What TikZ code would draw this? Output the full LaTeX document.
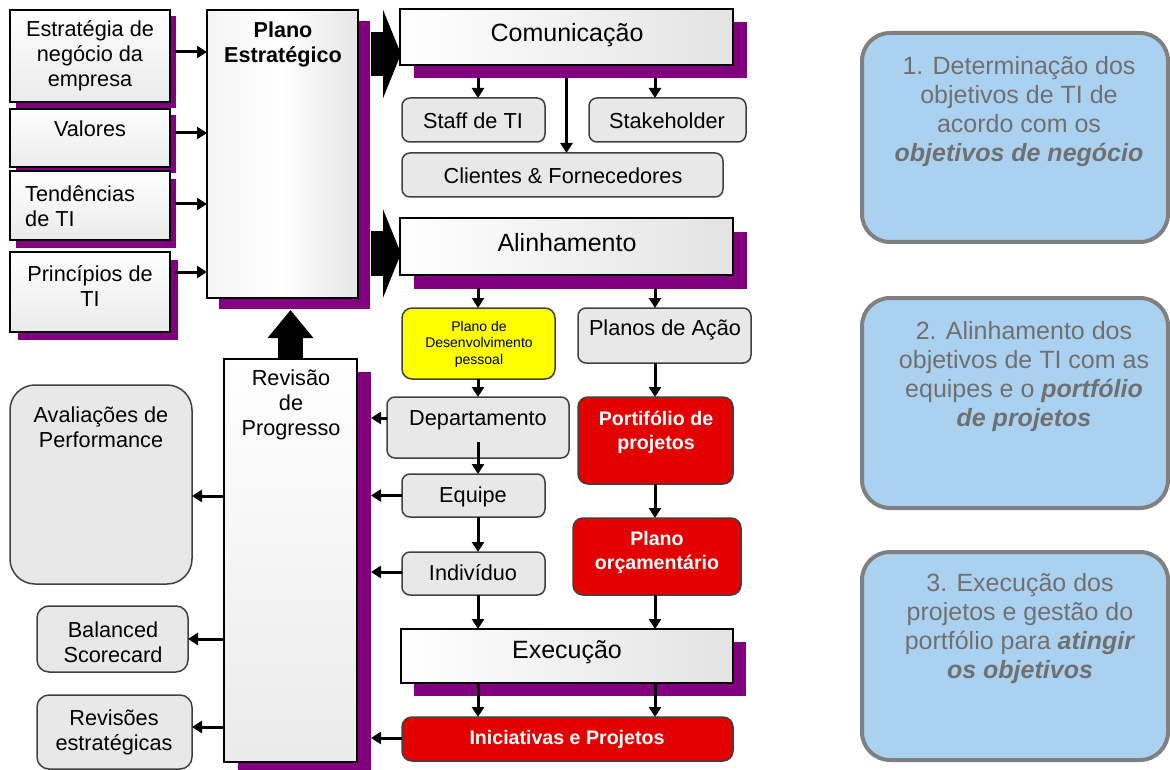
\documentclass[tikz,border=0pt]{standalone}
\usepackage{fontspec}
\setmainfont{Liberation Sans}
\usetikzlibrary{arrows.meta,calc,backgrounds}

\definecolor{purp}{RGB}{128,0,128}
\definecolor{boxgray}{RGB}{232,232,232}
\definecolor{edgegray}{RGB}{64,64,64}
\definecolor{redbox}{RGB}{226,0,0}
\definecolor{yelbox}{RGB}{255,255,0}
\definecolor{bluebox}{RGB}{171,209,241}
\definecolor{blueedge}{RGB}{128,128,128}
\definecolor{bluetext}{RGB}{112,112,112}

\newcommand\shadowof[3]{\fill[purp] ($(#1.south west)+(#2,#3)$) rectangle ($(#1.north east)+(#2,#3)$);}

\tikzset{
  frame/.style={draw=black, line width=2.5pt, inner sep=0pt, outer sep=0pt},
  hshade/.style={left color=white, right color=gray!22},
  vshade/.style={top color=white, bottom color=gray!16},
  pill/.style={draw=edgegray, line width=1.5pt, fill=boxgray, rounded corners=8pt, inner sep=0pt, outer sep=0pt},
  redpill/.style={draw=black!75, line width=1.5pt, fill=redbox, rounded corners=10pt, inner sep=0pt, outer sep=0pt},
  yelpill/.style={draw=black!75, line width=1.5pt, fill=yelbox, rounded corners=10pt, inner sep=0pt, outer sep=0pt},
  goal/.style={draw=blueedge, line width=4pt, fill=bluebox, rounded corners=28pt, inner sep=0pt, outer sep=0pt},
  lbl/.style={inner sep=0pt, align=center, font=\fontsize{21.7}{25}\selectfont},
  biglbl/.style={inner sep=0pt, align=center, font=\fontsize{25}{29}\selectfont},
  boldlbl/.style={inner sep=0pt, align=center, text=white, font=\fontsize{19.6}{24}\selectfont\bfseries},
  goallbl/.style={inner sep=0pt, align=center, text=bluetext, font=\fontsize{25}{29}\selectfont},
  arr/.style={line width=3pt, -{Triangle[length=10pt,width=12pt]}},
  bigarr/.style={line width=44pt, -{Triangle[length=18pt,width=88pt]}},
  uparr/.style={line width=25pt, -{Triangle[length=28pt,width=44pt]}},
}

\begin{document}
\begin{tikzpicture}[x=1pt,y=-1pt]
\useasboundingbox (0,0) rectangle (1170,770);

% ---- inputs of the strategic plan
\node[frame, vshade, minimum width=160pt, minimum height=92pt] (estr) at (90,56) {};
\node[frame, vshade, minimum width=160pt, minimum height=58pt] (val) at (90,138) {};
\node[frame, vshade, minimum width=160pt, minimum height=69pt] (tend) at (90,205.5) {};
\node[frame, vshade, minimum width=160pt, minimum height=80pt] (princ) at (90,292) {};
\node[lbl] (estr-t) at (90,56) {Estratégia de\\negócio da\\empresa};
\node[lbl] (val-t) at (90,129) {Valores};
\node[lbl, align=left, anchor=west] (tend-t) at (25,206) {Tendências\\de TI};
\node[lbl] (princ-t) at (90,286) {Princípios de\\TI};

% ---- strategic plan and progress review
\node[frame, left color=gray!8, right color=gray!20, middle color=white, minimum width=151pt, minimum height=288pt] (plano) at (282.5,154) {};
\node[lbl, font=\fontsize{21.6}{25}\selectfont\bfseries] (plano-t) at (283,44) {Plano\\Estratégico};
\node[frame, vshade, minimum width=133pt, minimum height=403pt] (rev) at (290.5,560.5) {};
\node[lbl] (rev-t) at (291,405) {Revisão\\de\\Progresso};

% ---- communication
\node[frame, hshade, minimum width=333pt, minimum height=56pt] (com) at (566.5,37) {};
\node[biglbl] (com-t) at (567,35) {Comunicação};
\node[pill, minimum width=143pt, minimum height=44pt] (staff) at (473.5,120) {};
\node[lbl] (staff-t) at (473,121) {Staff de TI};
\node[pill, minimum width=157pt, minimum height=44pt] (stake) at (667.5,120) {};
\node[lbl] (stake-t) at (667,121) {Stakeholder};
\node[pill, minimum width=321pt, minimum height=44pt] (cli) at (562.5,175) {};
\node[lbl] (cli-t) at (563,176) {Clientes \& Fornecedores};

% ---- alignment
\node[frame, hshade, minimum width=333pt, minimum height=57pt] (ali) at (566.5,246.5) {};
\node[biglbl] (ali-t) at (567,243) {Alinhamento};
\node[yelpill, minimum width=153pt, minimum height=71pt] (pdp) at (478.5,343.5) {};
\node[inner sep=0pt, align=center, font=\fontsize{14}{16.5}\selectfont] (pdp-t) at (479,344) {Plano de\\Desenvolvimento\\pessoal};
\node[pill, minimum width=173pt, minimum height=55pt] (pac) at (664.5,335.5) {};
\node[lbl] (pac-t) at (665,330) {Planos de Ação};
\node[pill, minimum width=182pt, minimum height=61pt] (dep) at (478,427.5) {};
\node[lbl] (dep-t) at (478,420) {Departamento};
\node[redpill, minimum width=155pt, minimum height=87pt] (port) at (655.5,440.5) {};
\node[boldlbl] (port-t) at (656,432) {Portifólio de\\projetos};
\node[pill, minimum width=143pt, minimum height=43pt] (equ) at (473.5,495.5) {};
\node[lbl] (equ-t) at (473,497) {Equipe};
\node[redpill, minimum width=168pt, minimum height=77pt] (orc) at (657,556.5) {};
\node[boldlbl] (orc-t) at (657,552) {Plano\\orçamentário};
\node[pill, minimum width=143pt, minimum height=43pt] (ind) at (473.5,573.5) {};
\node[lbl] (ind-t) at (473,573) {Indivíduo};

% ---- execution
\node[frame, hshade, minimum width=332pt, minimum height=54pt] (exe) at (567,656) {};
\node[biglbl] (exe-t) at (567,652) {Execução};
\node[redpill, minimum width=331pt, minimum height=44pt] (ini) at (567.5,739) {};
\node[boldlbl] (ini-t) at (567,739) {Iniciativas e Projetos};

% ---- review outputs
\node[pill, rounded corners=25pt, minimum width=182pt, minimum height=199pt] (aval) at (101,484.5) {};
\node[lbl] (aval-t) at (101,427) {Avaliações de\\Performance};
\node[pill, rounded corners=12pt, minimum width=151pt, minimum height=66pt] (bsc) at (112.5,639) {};
\node[lbl] (bsc-t) at (113,642) {Balanced\\Scorecard};
\node[pill, rounded corners=12pt, minimum width=155pt, minimum height=74pt] (rvs) at (114.5,732) {};
\node[lbl] (rvs-t) at (114,732) {Revisões\\estratégicas};

% ---- phases
\node[goal, minimum width=306pt, minimum height=209pt] (g1) at (1015,137.5) {};
\node[goallbl] (g1-t) at (1019,112) {1. Determinação dos\\objetivos de TI de\\acordo com os\\\textbf{\textit{objetivos de negócio}}};
\node[goal, minimum width=306pt, minimum height=210pt] (g2) at (1015,403) {};
\node[goallbl] (g2-t) at (1024,377) {2. Alinhamento dos\\objetivos de TI com as\\equipes e o \textbf{\textit{portfólio}}\\\textbf{\textit{de projetos}}};
\node[goal, minimum width=306pt, minimum height=208pt] (g3) at (1015,656) {};
\node[goallbl] (g3-t) at (1020,629) {3. Execução dos\\projetos e gestão do\\portfólio para \textbf{\textit{atingir}}\\\textbf{\textit{os objetivos}}};

% ---- drop shadows
\begin{scope}[on background layer]
  \shadowof{estr}{6}{6}
  \shadowof{val}{6}{6}
  \shadowof{tend}{6}{8}
  \shadowof{princ}{8}{8}
  \shadowof{plano}{12}{11}
  \shadowof{com}{14}{13}
  \shadowof{ali}{14}{14}
  \shadowof{exe}{13}{13}
  \shadowof{rev}{14}{13}
\end{scope}

% ---- block arrows
\draw[bigarr] ($(com.west -| plano.east)+(13,17)$) -- ($(com.west)+(1,17)$);
\draw[bigarr] ($(ali.west -| plano.east)+(13,7)$) -- ($(ali.west)+(1,7)$);
\draw[uparr] (rev.north) -- ($(plano.south -| rev.north)+(0,12)$);

% ---- inputs into the plan
\draw[arr] ($(estr.east)+(5,-4)$) -- ($(estr.east -| plano.west)+(0,-4)$);
\draw[arr] ($(val.east)+(5,-5)$) -- ($(val.east -| plano.west)+(0,-5)$);
\draw[arr] ($(tend.east)+(5,-1.5)$) -- ($(tend.east -| plano.west)+(0,-1.5)$);
\draw[arr] ($(princ.east)+(5,-20)$) -- ($(princ.east -| plano.west)+(0,-20)$);

% ---- vertical flow
\coordinate (cL) at (478,0);
\coordinate (cR) at (655,0);
\draw[arr] ($(com.south -| cL)+(0,13)$) -- (staff.north -| cL);
\draw[arr] ($(com.south)+(0,13)$) -- (com.south |- cli.north);
\draw[arr] ($(com.south -| cR)+(0,13)$) -- (stake.north -| cR);
\draw[arr] ($(ali.south -| cL)+(0,13)$) -- (pdp.north -| cL);
\draw[arr] ($(ali.south -| cR)+(0,13)$) -- (pac.north -| cR);
\draw[arr] (pdp.south -| cL) -- (dep.north -| cL);
\draw[arr] ($(dep.south -| cL)+(0,-16)$) -- (equ.north -| cL);
\draw[arr] (equ.south -| cL) -- (ind.north -| cL);
\draw[arr] (ind.south -| cL) -- (exe.north -| cL);
\draw[arr] (pac.south -| cR) -- (port.north -| cR);
\draw[arr] (port.south -| cR) -- (orc.north -| cR);
\draw[arr] (orc.south -| cR) -- (exe.north -| cR);
\draw[arr] (exe.south -| cL) -- (ini.north -| cL);
\draw[arr] (exe.south -| cR) -- (ini.north -| cR);

% ---- feedback into the progress review
\draw[arr] ($(dep.west)+(0,-9.5)$) -- ($(dep.west -| rev.east)+(14,-9.5)$);
\draw[arr] (equ.west) -- ($(equ.west -| rev.east)+(14,0)$);
\draw[arr] ($(ind.west)+(0,-1.5)$) -- ($(ind.west -| rev.east)+(14,-1.5)$);
\draw[arr] ($(ini.west)+(0,-1)$) -- ($(ini.west -| rev.east)+(14,-1)$);

% ---- review outputs
\draw[arr] ($(aval.east -| rev.west)+(0,11.5)$) -- ($(aval.east)+(0,11.5)$);
\draw[arr] (bsc.east -| rev.west) -- (bsc.east);
\draw[arr] ($(rvs.east -| rev.west)+(0,-5)$) -- ($(rvs.east)+(0,-5)$);
\end{tikzpicture}
\end{document}
